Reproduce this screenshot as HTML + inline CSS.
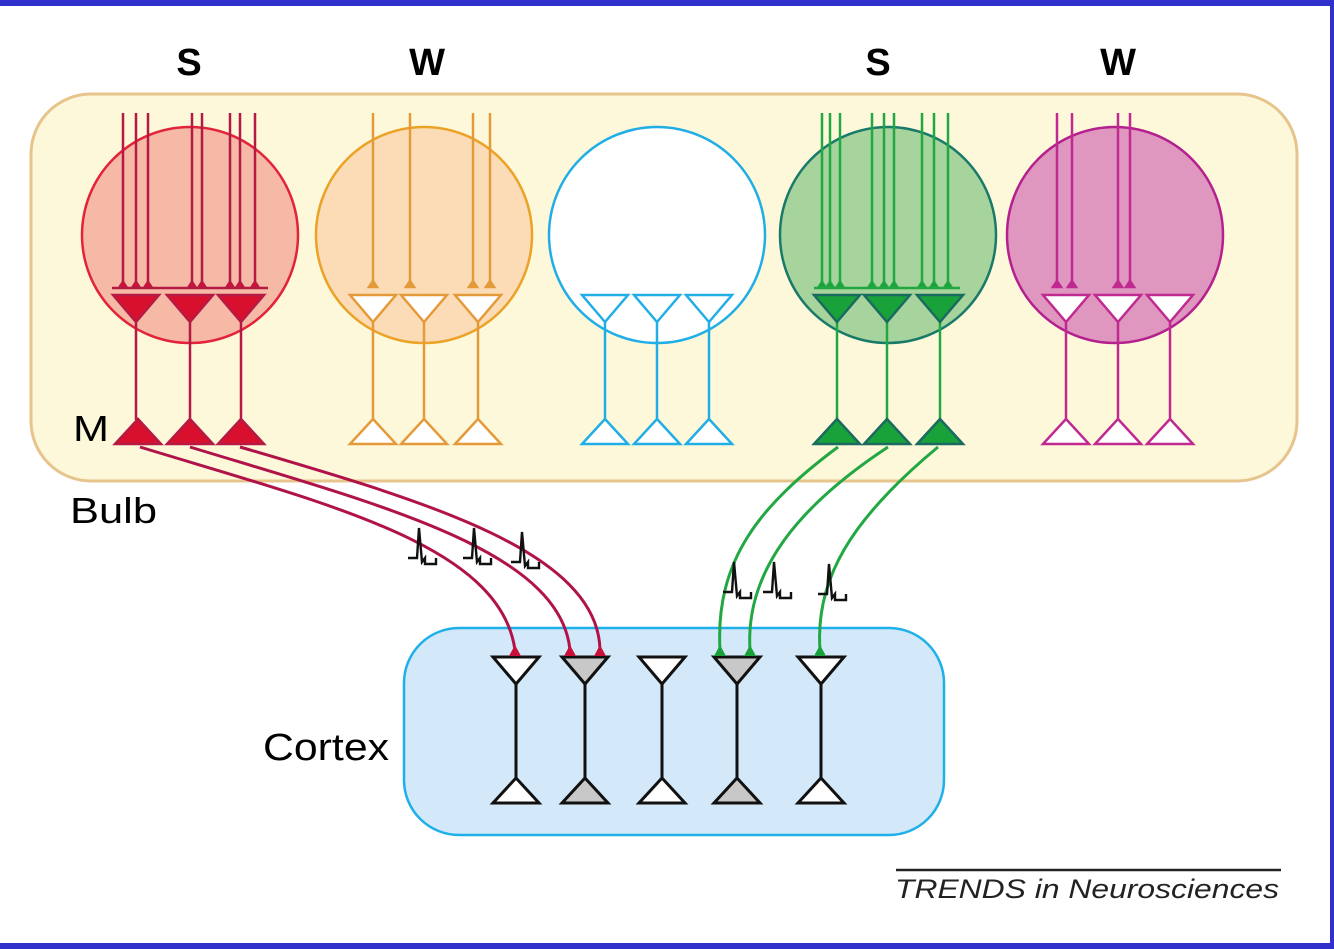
<!DOCTYPE html>
<html><head><meta charset="utf-8"><style>
html,body{margin:0;padding:0;background:#fff}
svg{display:block}
text{font-family:"Liberation Sans",sans-serif}
</style></head><body>
<svg width="1334" height="949" viewBox="0 0 1334 949" xmlns="http://www.w3.org/2000/svg">
<defs>
<path id="dn" d="M-23,0 H23 L0,27 Z"/>
<path id="up" d="M0,-25 L23,0 H-23 Z"/>
<path id="syn" d="M-4,0 L0,-6 L4,0 Z"/>
<path id="spk" d="M-12,0 H-3 L-1,-30 L2,4 L5,0 V6 H16 V0" fill="none" stroke="#111" stroke-width="2.4"/>
</defs>
<rect x="0" y="0" width="1334" height="949" fill="#fff"/>
<rect x="0" y="0" width="1334" height="6" fill="#3030cc"/>
<rect x="0" y="943" width="1334" height="6" fill="#3030cc"/>
<rect x="1330" y="0" width="4" height="949" fill="#3030cc"/>

<text x="189" y="75" font-size="38" font-weight="bold" text-anchor="middle">S</text>
<text x="427" y="75" font-size="38" font-weight="bold" text-anchor="middle">W</text>
<text x="878" y="75" font-size="38" font-weight="bold" text-anchor="middle">S</text>
<text x="1118" y="75" font-size="38" font-weight="bold" text-anchor="middle">W</text>

<rect x="31" y="94" width="1266" height="387" rx="60" fill="#fdf8da" stroke="#e6c48c" stroke-width="3"/>

<circle cx="190" cy="235" r="108" fill="#f5b9a6" stroke="#e2233a" stroke-width="2.5"/>
<circle cx="424" cy="235" r="108" fill="#fbdcb6" stroke="#eba226" stroke-width="2.5"/>
<circle cx="657" cy="235" r="108" fill="#fff" stroke="#21aee6" stroke-width="2.5"/>
<circle cx="888" cy="235" r="108" fill="#a7d49c" stroke="#1a7a6a" stroke-width="2.5"/>
<circle cx="1115" cy="235" r="108" fill="#df97bf" stroke="#b5208f" stroke-width="2.5"/>

<g stroke="#b51a45" stroke-width="2.5" fill="#d8102e">
<path d="M123,113V285M136,113V285M148,113V285M192,113V285M202,113V285M230,113V285M240,113V285M255,113V285" fill="none"/>
<g stroke-width="1.5"><use href="#syn" x="123" y="287"/><use href="#syn" x="136" y="287"/><use href="#syn" x="148" y="287"/><use href="#syn" x="192" y="287"/><use href="#syn" x="202" y="287"/><use href="#syn" x="230" y="287"/><use href="#syn" x="240" y="287"/><use href="#syn" x="255" y="287"/></g>
<path d="M112,288H268" fill="none"/>
<path d="M136,322V420M190,322V420M241,322V420" fill="none"/>
<use href="#dn" x="136" y="295"/><use href="#dn" x="190" y="295"/><use href="#dn" x="241" y="295"/>
<use href="#up" x="138" y="444"/><use href="#up" x="190" y="444"/><use href="#up" x="241" y="444"/>
</g>

<g stroke="#e59a3a" stroke-width="2.5" fill="#fff">
<path d="M373,113V285M410,113V285M473,113V285M490,113V285M373,322V420M424,322V420M478,322V420" fill="none"/>
<g fill="#e59a3a"><use href="#syn" x="373" y="287"/><use href="#syn" x="410" y="287"/><use href="#syn" x="473" y="287"/><use href="#syn" x="490" y="287"/></g>
<use href="#dn" x="373" y="295"/><use href="#dn" x="424" y="295"/><use href="#dn" x="478" y="295"/>
<use href="#up" x="373" y="444"/><use href="#up" x="424" y="444"/><use href="#up" x="478" y="444"/>
</g>

<g stroke="#21aee6" stroke-width="2.5" fill="#fff">
<path d="M605,322V420M657,322V420M709,322V420" fill="none"/>
<use href="#dn" x="605" y="295"/><use href="#dn" x="657" y="295"/><use href="#dn" x="709" y="295"/>
<use href="#up" x="605" y="444"/><use href="#up" x="657" y="444"/><use href="#up" x="709" y="444"/>
</g>

<g stroke="#22a843" stroke-width="2.5" fill="#1aa23a">
<path d="M822,113V285M830,113V285M840,113V285M872,113V285M884,113V285M894,113V285M922,113V285M934,113V285M948,113V285" fill="none"/>
<g stroke-width="1.5"><use href="#syn" x="822" y="287"/><use href="#syn" x="830" y="287"/><use href="#syn" x="840" y="287"/><use href="#syn" x="872" y="287"/><use href="#syn" x="884" y="287"/><use href="#syn" x="894" y="287"/><use href="#syn" x="922" y="287"/><use href="#syn" x="934" y="287"/><use href="#syn" x="948" y="287"/></g>
<path d="M814,288H960" fill="none"/>
<path d="M837,322V420M887,322V420M940,322V420" fill="none"/>
<g stroke="#1a6a60"><use href="#dn" x="837" y="295"/><use href="#dn" x="887" y="295"/><use href="#dn" x="940" y="295"/>
<use href="#up" x="837" y="444"/><use href="#up" x="887" y="444"/><use href="#up" x="940" y="444"/></g>
</g>

<g stroke="#c02a90" stroke-width="2.5" fill="#fff">
<path d="M1057,113V285M1072,113V285M1118,113V285M1130,113V285M1066,322V420M1118,322V420M1170,322V420" fill="none"/>
<g fill="#c02a90"><use href="#syn" x="1057" y="287"/><use href="#syn" x="1072" y="287"/><use href="#syn" x="1118" y="287"/><use href="#syn" x="1130" y="287"/></g>
<use href="#dn" x="1066" y="295"/><use href="#dn" x="1118" y="295"/><use href="#dn" x="1170" y="295"/>
<use href="#up" x="1066" y="444"/><use href="#up" x="1118" y="444"/><use href="#up" x="1170" y="444"/>
</g>

<text x="73" y="441" font-size="36" textLength="36" lengthAdjust="spacingAndGlyphs">M</text>
<text x="70" y="523" font-size="36" textLength="87" lengthAdjust="spacingAndGlyphs">Bulb</text>

<rect x="404" y="628" width="540" height="207" rx="55" fill="#d3e8f8" stroke="#1fb0ea" stroke-width="2.5"/>
<text x="263" y="760" font-size="38" textLength="126" lengthAdjust="spacingAndGlyphs">Cortex</text>
<g stroke="#111" stroke-width="3">
<path d="M516,682V778M585,682V778M662,682V778M737,682V778M821,682V778" fill="none"/>
<use href="#dn" x="516" y="657" fill="#fff"/><use href="#dn" x="585" y="657" fill="#c8c8c8"/><use href="#dn" x="662" y="657" fill="#fff"/><use href="#dn" x="737" y="657" fill="#c8c8c8"/><use href="#dn" x="821" y="657" fill="#fff"/>
<use href="#up" x="516" y="803" fill="#fff"/><use href="#up" x="585" y="803" fill="#c8c8c8"/><use href="#up" x="662" y="803" fill="#fff"/><use href="#up" x="737" y="803" fill="#c8c8c8"/><use href="#up" x="821" y="803" fill="#fff"/>
</g>

<g fill="none" stroke="#b0134a" stroke-width="3">
<path d="M140,447 C330,505 500,545 515,650"/>
<path d="M190,447 C380,505 560,550 570,650"/>
<path d="M240,447 C420,500 598,550 600,650"/>
</g>
<g fill="#c8103a"><path d="M509,656 L515,645 L521,656Z"/><path d="M564,656 L570,645 L576,656Z"/><path d="M594,656 L600,645 L606,656Z"/></g>
<g fill="none" stroke="#22a843" stroke-width="3">
<path d="M838,447 C760,505 715,560 720,650"/>
<path d="M888,447 C800,505 745,570 750,650"/>
<path d="M938,447 C850,520 815,580 820,650"/>
</g>
<g fill="#1aa23a"><path d="M714,656 L720,645 L726,656Z"/><path d="M744,656 L750,645 L756,656Z"/><path d="M814,656 L820,645 L826,656Z"/></g>

<use href="#spk" x="420" y="558"/><use href="#spk" x="475" y="558"/><use href="#spk" x="523" y="562"/>
<use href="#spk" x="735" y="592"/><use href="#spk" x="775" y="592"/><use href="#spk" x="830" y="594"/>

<line x1="896" y1="870" x2="1281" y2="870" stroke="#222" stroke-width="2.5"/>
<text x="895" y="898" font-size="27" font-style="italic" fill="#222" textLength="384" lengthAdjust="spacingAndGlyphs">TRENDS in Neurosciences</text>
</svg>
</body></html>
